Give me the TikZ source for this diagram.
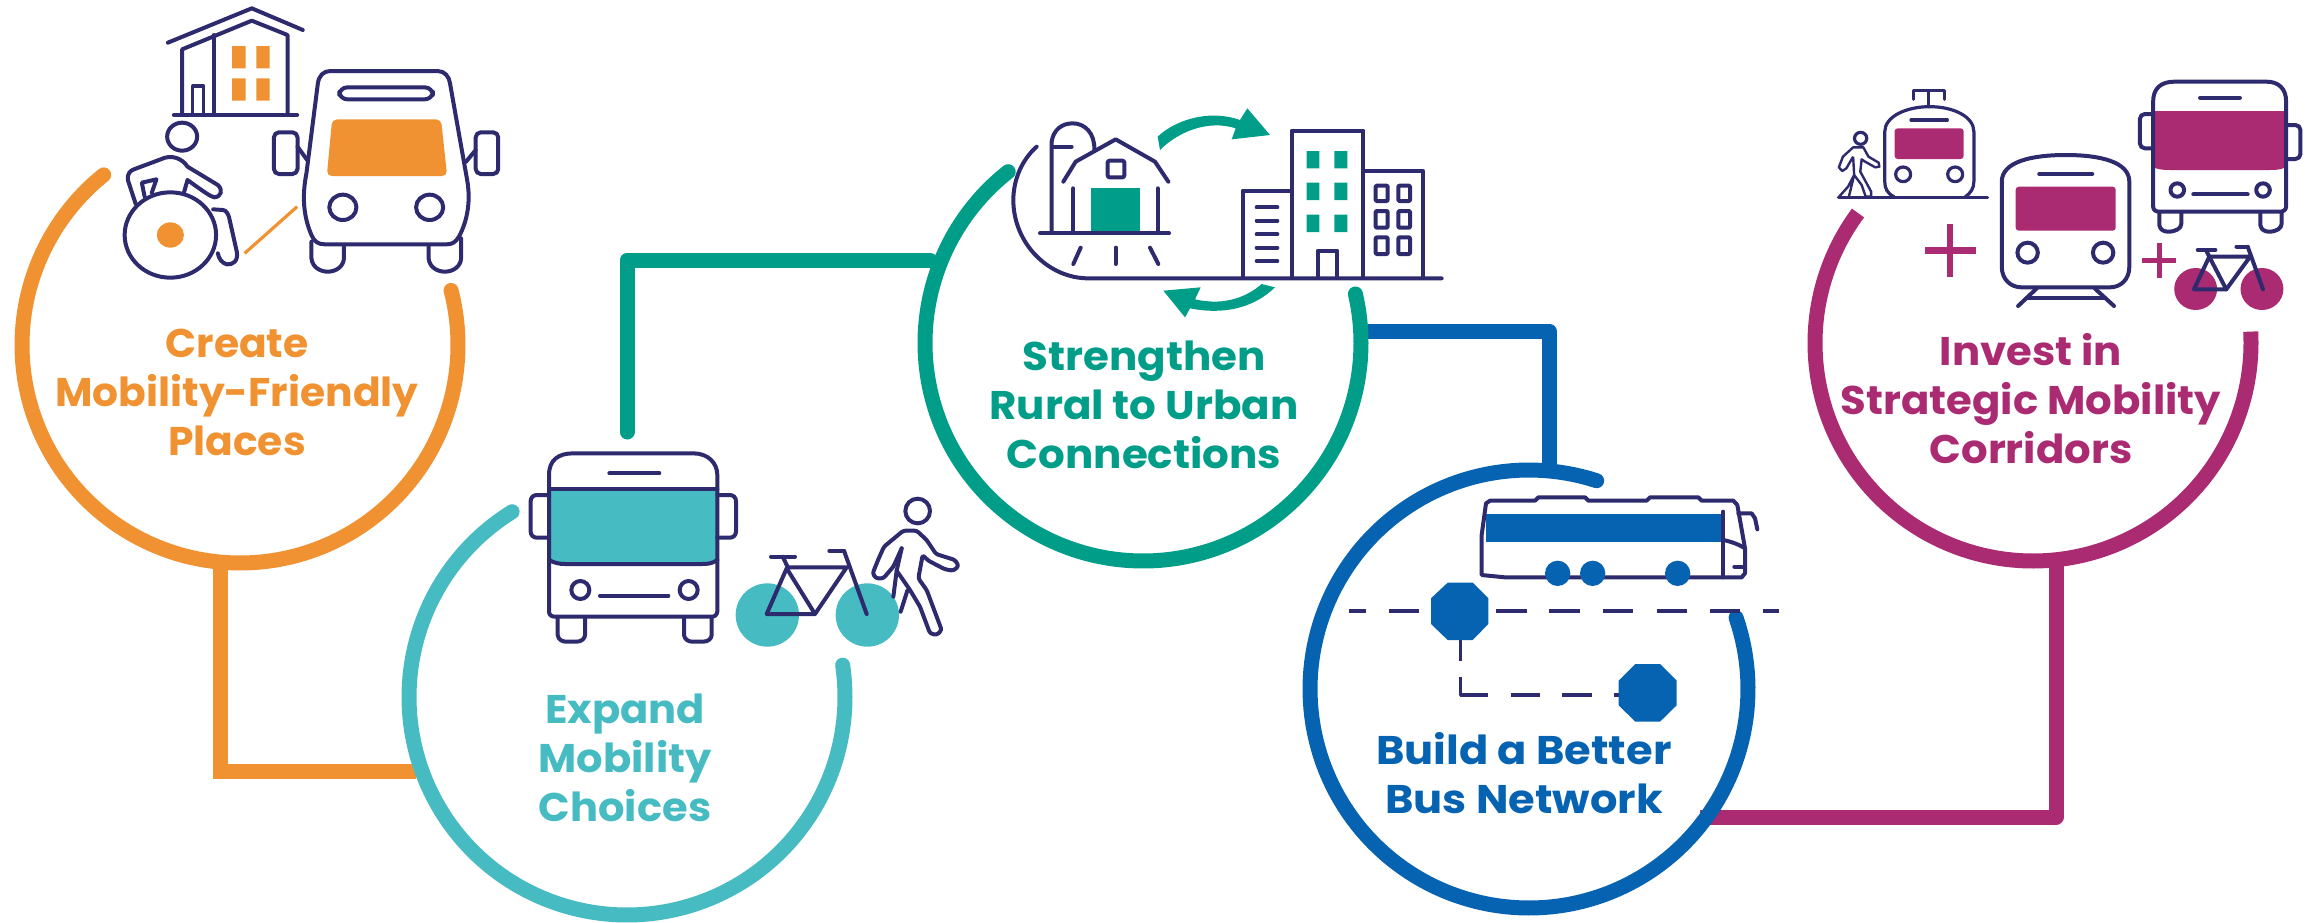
\documentclass[tikz,border=0pt]{standalone}
\usepackage{fontspec}
\setmainfont{Poppins}
\definecolor{cOrange}{HTML}{F09231}
\definecolor{cTeal}{HTML}{46BBC2}
\definecolor{cGreen}{HTML}{009E88}
\definecolor{cBlue}{HTML}{0663B2}
\definecolor{cMag}{HTML}{AA2B72}
\definecolor{cNavy}{HTML}{2D2A6E}
\tikzset{
  ringline/.style={line width=7.5pt,line cap=round,line join=round},
  link/.style={line width=7.5pt,line join=round},
  nv/.style={draw=cNavy,line width=2pt,line cap=round,line join=round},
  nvt/.style={draw=cNavy,line width=1.6pt,line cap=round,line join=round},
  lbl/.style={font=\fontsize{20}{24.5}\selectfont\bfseries\addfontfeature{FakeStretch=#1},align=center,inner sep=0pt},
}
\begin{document}
\begin{tikzpicture}[x=0.5pt,y=-0.5pt]
\useasboundingbox (0,0) rectangle (2313,922);
% connector end points
\coordinate (ringOneBottom) at (220,563);
\coordinate (orangeCorner) at (220,771);
\coordinate (ringTwoLeft) at (416,771);
\coordinate (greenFree) at (627,432);
\coordinate (greenCorner) at (627,260);
\coordinate (ringThreeLeft) at (930,260);
\coordinate (ringThreeRight) at (1362,331);
\coordinate (blueCorner) at (1549,331);
\coordinate (ringFourTop) at (1549,470);
\coordinate (ringFourSide) at (1700,817);
\coordinate (magCorner) at (2056,817);
\coordinate (ringFiveBottom) at (2056,561);
% connectors
\draw[link,cOrange,line join=miter] (ringOneBottom) -- (orangeCorner) -- (ringTwoLeft);
\draw[link,cGreen,line cap=round] (greenFree) -- (greenCorner) -- (ringThreeLeft);
\draw[link,cBlue] (ringThreeRight) -- (blueCorner) -- (ringFourTop);
\draw[link,cMag] (ringFourSide) -- (magCorner) -- (ringFiveBottom);
% rings
\draw[ringline,cOrange] plot[domain=-14.5:231.3,samples=150] ({240+218*cos(\x)},{345+218*sin(\x)});
\draw[ringline,cTeal] plot[domain=-8.4:238.2,samples=150] ({627+218*cos(\x)},{697+218*sin(\x)});
\draw[ringline,cGreen] plot[domain=-13:231.8,samples=150] ({1143+218*cos(\x)},{343+218*sin(\x)});
\draw[ringline,cBlue] plot[domain=-19:288,samples=150] ({1529+219*cos(\x)},{689+219*sin(\x)});
\draw[ringline,cMag,line cap=butt] plot[domain=-3:216.6,samples=150] ({2033+218*cos(\x)},{343+218*sin(\x)});
% labels
\node[lbl=1.02,text=cOrange] (labelOne) at (237,392) {Create\\Mobility-Friendly\\Places};
\node[lbl=1.04,text=cTeal] (labelTwo) at (625,758) {Expand\\Mobility\\Choices};
\node[lbl=1.05,text=cGreen] (labelThree) at (1144,405) {Strengthen\\Rural to Urban\\Connections};
\node[lbl=1.08,text=cBlue] (labelFour) at (1524,773) {Build a Better\\Bus Network};
\node[lbl=1.045,text=cMag] (labelFive) at (2031,399) {Invest in\\Strategic Mobility\\Corridors};

% ---------- icon group 1
\begin{scope}[shift={(0,0)},xscale=0.35714,yscale=0.33333]
\draw[nv] (470,128) -- (705,25) -- (848,90);
\draw[nv] (510,345) -- (510,148) -- (705,62) -- (805,105) -- (805,345);
\draw[nv] (598,105) -- (598,345);
\draw[nv] (487,345) -- (832,345);
\draw[nv,line width=1.6pt] (540,345) -- (540,258) -- (570,258) -- (570,345);
\fill[cOrange] (650,138) rectangle (688,205) (718,138) rectangle (755,205)
  (650,235) rectangle (688,302) (718,235) rectangle (755,302);
% person
\draw[nv] (510,410) circle[radius=42];
\draw[nv] (380,612) -- (358,540) .. controls (356,520) and (365,512) .. (375,508) -- (450,478) .. controls (480,462) and (510,475) .. (525,500) -- (610,555) .. controls (625,570) and (620,590) .. (600,592) .. controls (590,590) and (570,575) .. (525,540) -- (515,578);
\draw[nv] (405,590) -- (397,548) -- (438,538) -- (425,578);
\draw[nv] (477,705) circle[radius=128];
\fill[cOrange] (477,705) circle[radius=38];
\draw[nv] (597,628) -- (625,630) .. controls (635,632) and (640,645) .. (642,655) -- (663,755) .. controls (668,785) and (650,795) .. (635,793) .. controls (622,790) and (612,775) .. (610,760);
\draw[cOrange,line width=1.6pt] (832,620) -- (685,760);
% van
\fill[cOrange,rounded corners=2.5pt] (930,358) -- (1235,358) -- (1252,528) -- (915,528) -- cycle;
\draw[nv] (925,213) -- (1225,213) .. controls (1245,213) and (1258,230) .. (1260,250) -- (1308,540) .. controls (1318,600) and (1310,660) .. (1285,710) .. controls (1275,728) and (1265,733) .. (1250,733) -- (910,733) .. controls (890,733) and (880,725) .. (872,705) .. controls (850,650) and (845,590) .. (858,520) -- (890,250) .. controls (893,228) and (905,213) .. (925,213) -- cycle;
\draw[nv,rounded corners=4pt] (950,262) rectangle (1212,298);
\draw[nv] (960,622) circle[radius=38];
\draw[nv] (1203,622) circle[radius=38];
\draw[nv] (872,725) -- (872,775) .. controls (875,805) and (900,815) .. (918,815) .. controls (940,815) and (962,800) .. (963,775) -- (963,735);
\draw[nv] (1200,735) -- (1200,775) .. controls (1203,805) and (1228,815) .. (1246,815) .. controls (1268,815) and (1290,800) .. (1291,775) -- (1291,715);
\draw[nv,rounded corners=2.5pt] (767,397) rectangle (833,522);
\draw[nv] (833,440) -- (860,480);
\draw[nv,rounded corners=2.5pt] (1332,397) rectangle (1395,522);
\draw[nv] (1332,450) -- (1305,485);
\end{scope}

% ---------- icon group 2
\begin{scope}[shift={(480,440)},scale=0.33333]
\fill[cTeal] (210,148) -- (708,148) -- (708,360) .. controls (695,372) and (680,372) .. (665,372) -- (255,372) .. controls (235,372) and (222,368) .. (210,360) -- cycle;
\draw[nv] (207,515) -- (207,105) .. controls (207,60) and (235,40) .. (280,40) -- (640,40) .. controls (685,40) and (712,70) .. (712,105) -- (712,515) .. controls (710,525) and (705,530) .. (695,530) -- (225,530) .. controls (215,530) and (207,525) .. (207,515) -- cycle;
\draw[nv] (207,148) -- (712,148);
\draw[nv] (207,360) .. controls (222,368) and (235,372) .. (255,372) -- (665,372) .. controls (680,372) and (695,372) .. (712,360);
\draw[nv] (388,100) -- (538,100);
\draw[nv,rounded corners=3pt] (207,165) -- (152,165) -- (152,293) -- (207,293);
\draw[nv,rounded corners=3pt] (712,165) -- (768,165) -- (768,293) -- (712,293);
\draw[nv] (301,450) circle[radius=27];
\draw[nv] (626,450) circle[radius=27];
\draw[nv] (360,467) -- (565,467);
\draw[nv] (233,535) -- (233,585) .. controls (235,600) and (248,605) .. (258,605) -- (290,605) .. controls (305,605) and (315,595) .. (315,585) -- (315,535);
\draw[nv] (612,535) -- (612,585) .. controls (614,600) and (627,605) .. (637,605) -- (670,605) .. controls (685,605) and (695,595) .. (695,585) -- (695,535);
\fill[cTeal] (862,525) circle[radius=95] (1162,525) circle[radius=95];
\draw[nv] (860,522) -- (920,385) -- (1005,522) -- cycle;
\draw[nv] (925,382) -- (1100,382) -- (1005,522);
\draw[nv] (1093,335) -- (1160,522);
\draw[nv] (1048,333) -- (1093,333);
\draw[nv] (873,350) -- (945,350);
\draw[nv] (908,350) -- (925,385);
\draw[nv] (1313,213) circle[radius=37];
\draw[nv,rounded corners=1.2pt] (1265,325) -- (1240,380) -- (1210,415) -- (1188,415) -- (1178,400) -- (1195,358) -- (1212,320) -- (1270,272) -- (1310,272) -- (1340,300) -- (1368,342) -- (1425,360) -- (1436,378) -- (1420,392) -- (1395,388) -- (1345,362) -- (1328,345) -- (1315,415) -- (1340,450) -- (1385,570) -- (1370,585) -- (1350,580) -- (1320,500) -- (1290,450) -- (1250,392);
\draw[nv] (1265,325) -- (1250,392) -- (1240,470);
\draw[nv] (1282,452) -- (1262,515);
\end{scope}

% ---------- icon group 3
\begin{scope}[shift={(960,100)},scale=0.33333]
\draw[nv] (275,395) -- (275,125) .. controls (280,90) and (305,70) .. (338,70) .. controls (375,70) and (405,100) .. (403,150);
\draw[nv] (278,140) -- (335,140);
\draw[nv] (310,245) -- (347,185) -- (467,118) -- (585,185) -- (625,245);
\draw[nv] (340,265) -- (340,395);
\draw[nv] (593,265) -- (593,395);
\fill[cGreen] (393,263) rectangle (540,395);
\draw[nv,rounded corners=1pt] (443,182) rectangle (493,232);
\draw[nv] (240,400) -- (627,400);
\draw[nv] (362,443) -- (340,492);
\draw[nv] (467,443) -- (467,492);
\draw[nv] (570,443) -- (595,492);
\draw[nv] (230,140) .. controls (185,180) and (160,240) .. (160,300) .. controls (160,430) and (265,535) .. (385,535) -- (1445,535);
\draw[nv] (848,530) -- (848,272) -- (995,272);
\draw[nv] (995,530) -- (995,92) -- (1210,92) -- (1210,530);
\draw[nv] (1210,212) -- (1388,212) -- (1388,530);
\draw[nv] (890,322) -- (952,322) (890,362) -- (952,362) (890,403) -- (952,403) (890,443) -- (952,443) (890,483) -- (952,483);
\fill[cGreen] (1040,153) rectangle (1078,205) (1123,153) rectangle (1162,205)
 (1040,248) rectangle (1078,300) (1123,248) rectangle (1162,300)
 (1040,344) rectangle (1078,396) (1123,344) rectangle (1162,396);
\foreach \yy/\yz in {257/303,333/383,412/462}{
 \draw[nv,rounded corners=0.5pt] (1247,\yy) rectangle (1283,\yz);
 \draw[nv,rounded corners=0.5pt] (1315,\yy) rectangle (1350,\yz);
}
\draw[nv] (1073,530) -- (1073,452) -- (1132,452) -- (1132,530);
\fill[cGreen] (593,110) .. controls (640,65) and (740,25) .. (840,60) -- (862,25) -- (930,105) -- (815,118) -- (827,85) .. controls (750,60) and (660,90) .. (600,150) -- cycle;
\fill[cGreen] (945,562) .. controls (880,625) and (790,645) .. (690,625) -- (675,652) -- (610,572) -- (722,562) -- (705,598) .. controls (780,615) and (850,600) .. (905,552) -- cycle;
\end{scope}

% ---------- icon group 4
\begin{scope}[shift={(1330,460)},scale=0.33333]
\fill[cBlue] (468,162) rectangle (1178,245);
\draw[nv] (455,345) -- (455,225) -- (468,130) -- (480,122) -- (615,122) -- (625,112) -- (765,112) -- (775,122) -- (950,122) -- (960,112) -- (1105,112) -- (1115,122) -- (1210,122) -- (1222,135) -- (1245,265) -- (1245,340) -- (1235,352) -- (525,352) -- cycle;
\draw[nv] (1180,155) -- (1180,352);
\draw[nv] (1180,240) .. controls (1205,245) and (1230,255) .. (1245,265);
\draw[nv] (1225,160) -- (1265,160) -- (1275,175) -- (1282,208);
\draw[nv] (1213,320) -- (1240,320);
\fill[cBlue] (683,340) circle[radius=38] (788,340) circle[radius=38] (1043,340) circle[radius=38];
\draw[nvt,line cap=butt] (57,453) -- (107,453) (178,453) -- (268,453) (497,453) -- (590,453) (658,453) -- (750,453) (818,453) -- (910,453) (980,453) -- (1070,453) (1140,453) -- (1230,453) (1300,453) -- (1348,453);
\draw[nvt,line cap=butt] (392,540) -- (392,603);
\draw[nvt,line cap=butt] (392,652) -- (392,705) -- (473,705) (543,705) -- (630,705) (697,705) -- (785,705) (852,705) -- (870,705);
\fill[cBlue] (353,368) -- (428,368) -- (475,415) -- (475,492) -- (428,540) -- (353,540) -- (303,492) -- (303,415) -- cycle;
\fill[cBlue] (916,612) -- (990,612) -- (1040,662) -- (1040,736) -- (990,785) -- (916,785) -- (866,736) -- (866,662) -- cycle;
\end{scope}

% ---------- icon group 5
\begin{scope}[shift={(1780,60)},xscale=0.34014,yscale=0.33333]
% tram
\fill[cMag,rounded corners=1.5pt] (337,205) rectangle (540,297);
\draw[nvt] (335,410) .. controls (315,400) and (308,385) .. (308,365) -- (308,215) .. controls (308,170) and (370,140) .. (440,140) .. controls (510,140) and (570,170) .. (570,215) -- (570,365) .. controls (570,385) and (560,400) .. (545,410);
\draw[nvt] (392,118) -- (392,92) -- (483,92) -- (483,118);
\draw[nvt] (437,92) -- (437,140);
\draw[nvt] (385,180) -- (492,180);
\draw[nvt] (362,343) circle[radius=22];
\draw[nvt] (515,343) circle[radius=22];
\draw[nvt] (172,413) -- (610,413);
% small walker
\draw[nvt] (237,235) circle[radius=18];
\draw[line width=1.2pt,cNavy,line join=round] (215,290) -- (195,325) -- (183,333) -- (173,322) -- (185,290) -- (215,262) -- (245,262) -- (260,290) -- (290,308) -- (292,320) -- (280,322) -- (250,305) -- (240,298) -- (236,335) -- (268,395) -- (268,410) -- (252,410) -- (240,375) -- (218,345) -- (200,380) -- (172,412) -- (202,412) -- (218,345) -- (215,290);
% train
\fill[cMag,rounded corners=1.5pt] (693,380) rectangle (987,512);
\draw[nv] (652,365) .. controls (652,305) and (740,285) .. (840,285) .. controls (940,285) and (1027,305) .. (1027,365) -- (1027,620) .. controls (1027,660) and (1000,682) .. (970,682) -- (710,682) .. controls (680,682) and (652,660) .. (652,620) -- cycle;
\draw[nv] (762,342) -- (918,342);
\draw[nv] (728,578) circle[radius=30];
\draw[nv] (950,578) circle[radius=30];
\draw[nv] (755,685) -- (700,738);
\draw[nv] (925,685) -- (982,738);
\draw[nv] (725,715) -- (955,715);
% bus
\fill[cMag] (1098,153) -- (1486,153) -- (1486,322) .. controls (1470,330) and (1455,330) .. (1440,330) -- (1145,330) .. controls (1125,330) and (1110,328) .. (1098,322) -- cycle;
\draw[nv] (1097,440) -- (1097,125) .. controls (1097,85) and (1120,65) .. (1160,65) -- (1430,65) .. controls (1465,65) and (1488,85) .. (1488,125) -- (1488,440) .. controls (1487,450) and (1480,455) .. (1470,455) -- (1115,455) .. controls (1105,455) and (1097,450) .. (1097,440) -- cycle;
\draw[nv] (1235,113) -- (1352,113);
\draw[nv,rounded corners=2.5pt] (1097,162) -- (1058,162) -- (1058,265) -- (1097,265);
\draw[nv,rounded corners=2.5pt] (1488,195) -- (1530,195) -- (1530,297) -- (1488,297);
\draw[nv] (1168,390) circle[radius=20];
\draw[nv] (1420,390) circle[radius=20];
\draw[nv] (1215,403) -- (1375,403);
\draw[nv] (1115,458) -- (1115,495) .. controls (1117,510) and (1130,515) .. (1140,515) .. controls (1165,515) and (1180,505) .. (1180,490) -- (1180,458);
\draw[nv] (1412,458) -- (1412,495) .. controls (1414,510) and (1427,515) .. (1437,515) .. controls (1460,515) and (1475,505) .. (1475,490) -- (1475,458);
% plus signs
\draw[cMag,line width=3.3pt] (500,492) -- (500,650) (427,571) -- (577,571);
\draw[cMag,line width=2.4pt] (1115,550) -- (1115,655) (1065,602) -- (1165,602);
% bicycle
\fill[cMag] (1222,687) circle[radius=63] (1417,687) circle[radius=63];
\draw[nv] (1217,688) -- (1262,590) -- (1312,688) -- cycle;
\draw[nv] (1262,590) -- (1382,590) -- (1312,688);
\draw[nv] (1375,560) -- (1420,688);
\draw[nv] (1342,560) -- (1375,560);
\draw[nv] (1228,570) -- (1280,570);
\draw[nv] (1252,570) -- (1262,590);
\end{scope}
\end{tikzpicture}
\end{document}
